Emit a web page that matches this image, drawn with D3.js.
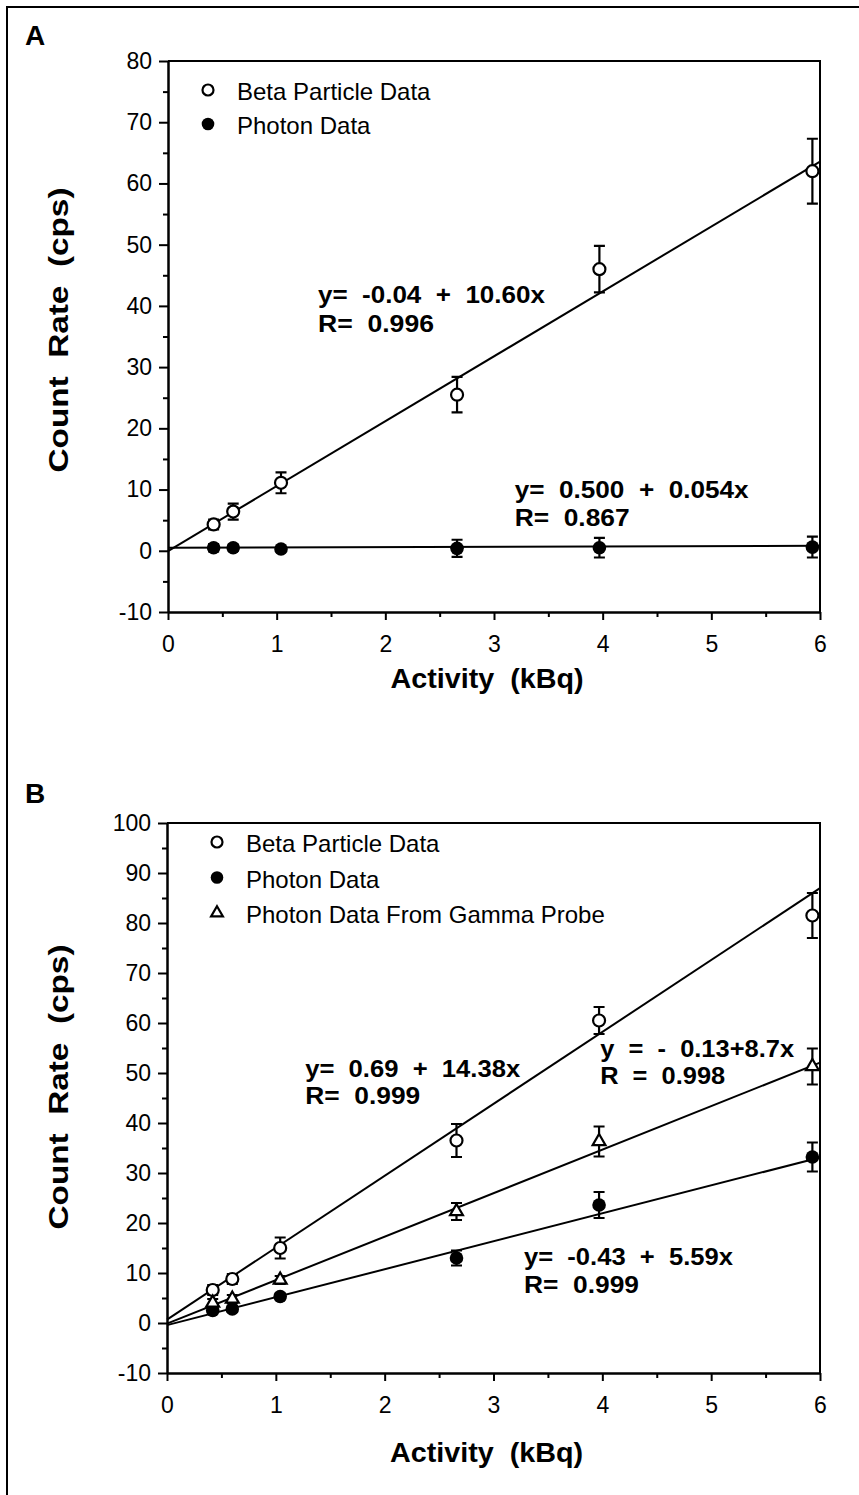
<!DOCTYPE html>
<html lang="en">
<head>
  <meta charset="utf-8">
  <script src="https://d3js.org/d3.v7.min.js"></script>
  <style>
    body { margin: 0; background: #fff; }
    text { font-family: "Liberation Sans", Arial, Helvetica, sans-serif; fill: #000; white-space: pre; }
  </style>
</head>
<body>
<script>
// ---- data ----
var activity = [0.42, 0.60, 1.04, 2.66, 3.97, 5.93];   // kBq

// panel A
var betaA      = [4.3, 6.4, 11.1, 25.5, 46.0, 62.0];
var betaAErr   = [0.8, 1.3, 1.7, 2.9, 3.8, 5.3];
var photonA    = [0.5, 0.5, 0.3, 0.4, 0.5, 0.6];
var photonAErr = [0.6, 0.5, 0.3, 1.4, 1.6, 1.7];
var fitA = [[-0.04, 10.60], [0.500, 0.054]];   // intercept, slope

// panel B
var betaB      = [6.6, 8.8, 15.0, 36.5, 60.5, 81.5];
var betaBErr   = [1.0, 1.0, 2.1, 3.3, 2.7, 4.5];
var photonB    = [2.5, 2.8, 5.3, 13.0, 23.6, 33.2];
var photonBErr = [0.6, 0.6, 0.6, 1.5, 2.6, 2.9];
var gammaB     = [4.0, 4.8, 8.6, 22.3, 36.3, 51.3];
var gammaBErr  = [0.8, 0.8, 0.8, 1.7, 3.0, 3.6];
var fitB = [[0.69, 14.38], [-0.43, 5.59], [-0.13, 8.7]];

// axes
var xTicks = [0, 1, 2, 3, 4, 5, 6];
var xMinor = [0.5, 1.5, 2.5, 3.5, 4.5, 5.5];
var yTicksA = [-10, 0, 10, 20, 30, 40, 50, 60, 70, 80];
var yMinorA = [-5, 5, 15, 25, 35, 45, 55, 65, 75];
var yTicksB = [-10, 0, 10, 20, 30, 40, 50, 60, 70, 80, 90, 100];
var yMinorB = [-5, 5, 15, 25, 35, 45, 55, 65, 75, 85, 95];

var legendA = ["Beta Particle Data", "Photon Data"];
var legendB = ["Beta Particle Data", "Photon Data", "Photon Data From Gamma Probe"];

var eqA = [["y=  -0.04  +  10.60x", "R=  0.996"], ["y=  0.500  +  0.054x", "R=  0.867"]];
var eqB = [["y=  0.69  +  14.38x", "R=  0.999"], ["y  =  -  0.13+8.7x", "R  =  0.998"], ["y=  -0.43  +  5.59x", "R=  0.999"]];

var W = 859, H = 1495;
var svg = d3.select("body").append("svg").attr("width", W).attr("height", H);

// outer frame (only top & left visible)
svg.append("path").attr("d", "M7," + H + "V7H" + W)
  .attr("fill", "none").attr("stroke", "#000").attr("stroke-width", 2);

function marker(g, kind, cx, cy, r) {
  if (kind == "open") {
    g.append("circle").attr("cx", cx).attr("cy", cy).attr("r", r)
      .attr("fill", "#fff").attr("stroke", "#000").attr("stroke-width", 2.2);
  } else if (kind == "filled") {
    g.append("circle").attr("cx", cx).attr("cy", cy).attr("r", r + 0.8).attr("fill", "#000");
  } else {
    g.append("path").attr("d", d3.symbol(d3.symbolTriangle, r * r * 2)())
      .attr("transform", "translate(" + cx + "," + cy + ")")
      .attr("fill", "#fff").attr("stroke", "#000").attr("stroke-width", 2.2);
  }
}

function drawPanel(p) {
  var g = svg.append("g");
  var x = d3.scaleLinear().domain([0, 6]).range([p.left, p.right]);
  var y = d3.scaleLinear().domain([p.yTicks[0], p.yTicks[p.yTicks.length - 1]]).range([p.bottom, p.top]);
  var plain = function (d) { return "" + d; };

  // panel letter
  g.append("text").attr("x", 25).attr("y", p.letterY).text(p.letter)
    .style("font-size", "28px").style("font-weight", "bold");

  // top & right frame
  g.append("path").attr("d", "M" + p.left + "," + p.top + "H" + p.right + "V" + p.bottom)
    .attr("fill", "none").attr("stroke", "#000").attr("stroke-width", 2);

  // axes
  var ya = g.append("g").attr("transform", "translate(" + p.left + ",0)")
    .call(d3.axisLeft(y).tickValues(p.yTicks).tickFormat(plain).tickSize(9).tickSizeOuter(0).tickPadding(7));
  var yb = g.append("g").attr("transform", "translate(" + p.left + ",0)")
    .call(d3.axisLeft(y).tickValues(p.yMinor).tickSize(5).tickSizeOuter(0).tickFormat(""));
  var xa = g.append("g").attr("transform", "translate(0," + p.bottom + ")")
    .call(d3.axisBottom(x).tickValues(xTicks).tickFormat(plain).tickSize(8).tickSizeOuter(0).tickPadding(16));
  var xb = g.append("g").attr("transform", "translate(0," + p.bottom + ")")
    .call(d3.axisBottom(x).tickValues(xMinor).tickSize(5).tickSizeOuter(0).tickFormat(""));
  [ya, yb, xa, xb].forEach(function (a) {
    a.selectAll("path, line").attr("stroke", "#000").attr("stroke-width", 2);
    a.selectAll("text").style("font-size", "23px").style("font-family", null).attr("fill", "#000");
  });

  // axis titles
  g.append("text").attr("x", (p.left + p.right) / 2 - 7).attr("y", p.xTitleY)
    .attr("text-anchor", "middle").text("Activity  (kBq)")
    .attr("textLength", 193).attr("lengthAdjust", "spacingAndGlyphs")
    .style("font-size", "27px").style("font-weight", "bold");
  g.append("text")
    .attr("transform", "translate(68," + p.yTitleY + ") rotate(-90)")
    .attr("text-anchor", "middle").text("Count  Rate  (cps)")
    .attr("textLength", 285).attr("lengthAdjust", "spacingAndGlyphs")
    .style("font-size", "27px").style("font-weight", "bold");

  // legend
  p.legend.forEach(function (name, i) {
    var ly = p.legendY + i * p.legendStep;
    marker(g, p.series[i].kind, p.legendX, ly - 10, 5.5);
    g.append("text").attr("x", p.legendX + 29).attr("y", ly).text(name).style("font-size", "24px");
  });

  // fit lines
  var line = d3.line().x(function (d) { return x(d[0]); }).y(function (d) { return y(d[1]); });
  p.series.forEach(function (s) {
    var pts = [0, 6].map(function (v) { return [v, s.fit[0] + s.fit[1] * v]; });
    g.append("path").attr("d", line(pts)).attr("fill", "none")
      .attr("stroke", "#000").attr("stroke-width", 2);
  });

  // error bars + markers
  p.series.forEach(function (s) {
    activity.forEach(function (a, i) {
      var cx = x(a), y1 = y(s.values[i] + s.err[i]), y2 = y(s.values[i] - s.err[i]);
      g.append("path").attr("d", "M" + cx + "," + y1 + "V" + y2 +
          "M" + (cx - 5.5) + "," + y1 + "H" + (cx + 5.5) +
          "M" + (cx - 5.5) + "," + y2 + "H" + (cx + 5.5))
        .attr("fill", "none").attr("stroke", "#000").attr("stroke-width", 2.2);
    });
  });
  p.series.forEach(function (s) {
    activity.forEach(function (a, i) { marker(g, s.kind, x(a), y(s.values[i]), 6); });
  });

  // regression equations
  p.eqs.forEach(function (e, i) {
    var pos = p.eqPos[i];
    e.forEach(function (str, j) {
      g.append("text").attr("x", x(pos.x)).attr("y", y(pos.y) + j * pos.dy).text(str)
        .attr("textLength", pos.w[j]).attr("lengthAdjust", "spacingAndGlyphs")
        .style("font-size", "24px").style("font-weight", "bold");
    });
  });
}

drawPanel({
  letter: "A", letterY: 45,
  left: 168, right: 820, top: 61, bottom: 612,
  yTicks: yTicksA, yMinor: yMinorA, yTitleY: 330, xTitleY: 688,
  legend: legendA, legendX: 208, legendY: 100, legendStep: 34,
  series: [
    { values: betaA, err: betaAErr, kind: "open", fit: fitA[0] },
    { values: photonA, err: photonAErr, kind: "filled", fit: fitA[1] }
  ],
  eqs: eqA,
  eqPos: [{ x: 1.38, y: 40.5, dy: 29, w: [227, 116] },
          { x: 3.19, y: 8.6, dy: 28, w: [234, 115] }]
});

drawPanel({
  letter: "B", letterY: 803,
  left: 167, right: 820, top: 823, bottom: 1373,
  yTicks: yTicksB, yMinor: yMinorB, yTitleY: 1087, xTitleY: 1462,
  legend: legendB, legendX: 217, legendY: 852, legendStep: 35.5,
  series: [
    { values: betaB, err: betaBErr, kind: "open", fit: fitB[0] },
    { values: photonB, err: photonBErr, kind: "filled", fit: fitB[1] },
    { values: gammaB, err: gammaBErr, kind: "tri", fit: fitB[2] }
  ],
  eqs: [eqB[0], eqB[2], eqB[1]],
  eqPos: [{ x: 1.27, y: 49.2, dy: 27, w: [215, 115] },
          { x: 3.28, y: 11.6, dy: 28, w: [209, 115] },
          { x: 3.98, y: 53.2, dy: 27, w: [194, 125] }]
});
</script>
</body>
</html>
